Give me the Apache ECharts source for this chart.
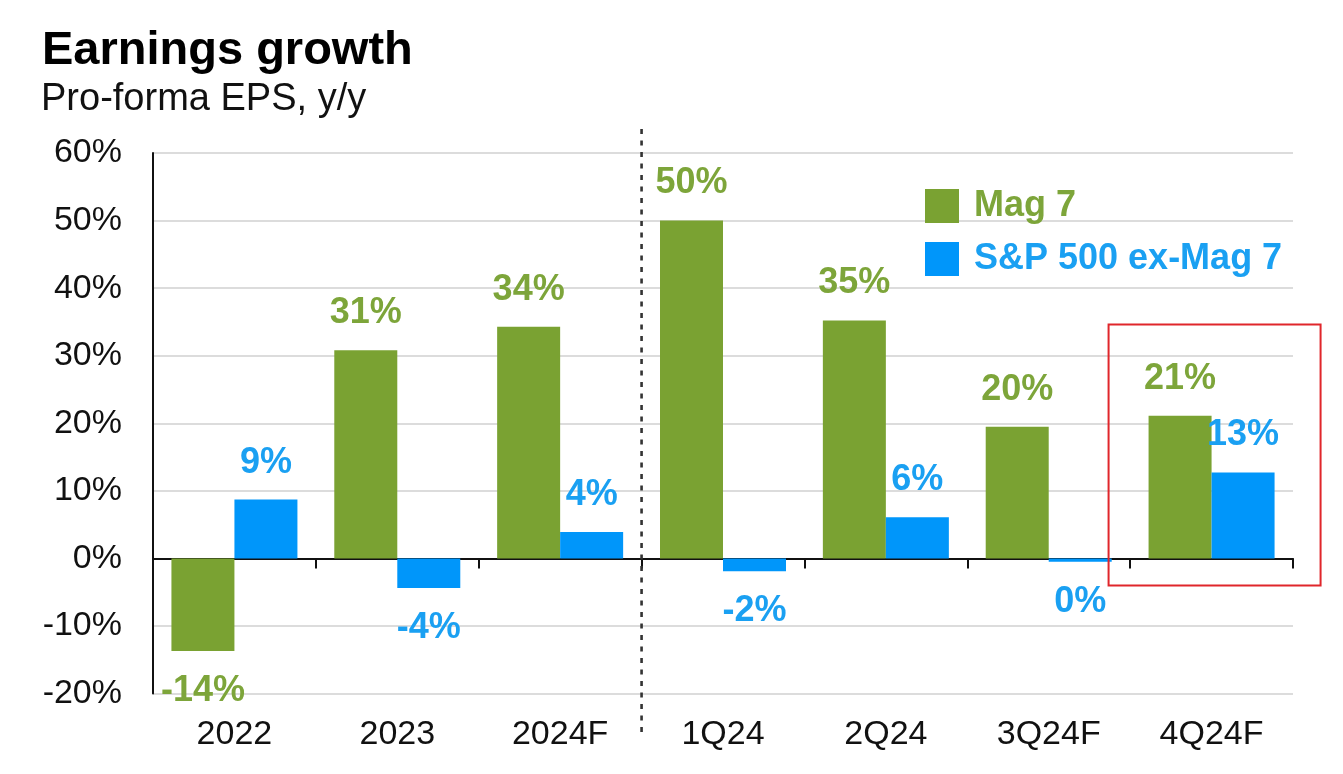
<!DOCTYPE html>
<html>
<head>
<meta charset="utf-8">
<script src="https://cdn.jsdelivr.net/npm/echarts@6/dist/echarts.min.js"></script>
<style>
html,body{margin:0;padding:0;background:#fff;}
#chart{width:1343px;height:774px;}
</style>
</head>
<body>
<div id="chart"></div>
<script>
// ---- data ----
const categories = ['2022', '2023', '2024F', '1Q24', '2Q24', '3Q24F', '4Q24F'];
const mag7 = [-13.7, 30.8, 34.3, 50.0, 35.2, 19.5, 21.1];
const sp500exMag7 = [8.7, -4.4, 3.9, -1.9, 6.1, -0.5, 12.7];
const seriesNames = ['Mag 7', 'S&P 500 ex-Mag 7'];
const yTicks = { min: -20, max: 60, interval: 10 };
const titleText = 'Earnings growth';
const subtitleText = 'Pro-forma EPS, y/y';

// ---- styles ----
const FONT = '"Liberation Sans", Arial, Helvetica, sans-serif';
const GREEN = '#7AA232', GREEN_LABEL = '#7DA53A';
const BLUE = '#0096FA', BLUE_LABEL = '#1AA0F2';

function toData(arr) {
  return arr.map(v => ({
    value: v,
    label: { position: v < 0 ? 'bottom' : 'top', distance: v < 0 ? 22 : 19 }
  }));
}
function labelFmt(p) {
  let r = Math.round(p.value);
  if (r === 0) r = 0;
  return r + '%';
}

const chart = echarts.init(document.getElementById('chart'), null, { renderer: 'canvas' });

const option = {
  animation: false,
  backgroundColor: '#ffffff',
  textStyle: { fontFamily: FONT },
  grid: { left: 153, right: 50, top: 153, bottom: 80.5, containLabel: false },
  legend: {
    orient: 'vertical',
    left: 920, top: 183,
    icon: 'rect',
    itemWidth: 34, itemHeight: 34, itemGap: 17,
    selectedMode: false,
    data: [
      { name: seriesNames[0], textStyle: { color: GREEN_LABEL } },
      { name: seriesNames[1], textStyle: { color: BLUE_LABEL } }
    ],
    textStyle: { fontSize: 36, fontWeight: 'bold', fontFamily: FONT, padding: [0, 0, 0, 10] }
  },
  xAxis: [
    {
      type: 'category',
      data: categories,
      axisLine: { onZero: true, lineStyle: { color: '#111', width: 2 } },
      axisTick: { show: true, interval: 0, length: 10, lineStyle: { color: '#111', width: 2 } },
      axisLabel: { show: false },
      splitLine: { show: false }
    },
    {
      type: 'category',
      data: categories,
      position: 'bottom',
      axisLine: { show: false, onZero: false },
      axisTick: { show: false },
      axisLabel: { show: true, interval: 0, fontSize: 34, color: '#111', margin: 24, fontFamily: FONT },
      splitLine: { show: false }
    }
  ],
  yAxis: {
    type: 'value',
    min: yTicks.min, max: yTicks.max, interval: yTicks.interval,
    axisLine: { show: true, lineStyle: { color: '#111', width: 2 } },
    axisTick: { show: false },
    axisLabel: { formatter: '{value}%', fontSize: 34, color: '#111', margin: 31, fontFamily: FONT },
    splitLine: { show: true, lineStyle: { color: '#DCDCDC', width: 1.8 } }
  },
  series: [
    {
      name: seriesNames[0],
      type: 'bar',
      xAxisIndex: 0,
      data: toData(mag7),
      barWidth: 63,
      barGap: '0%',
      itemStyle: { color: GREEN },
      label: { show: true, formatter: labelFmt, fontSize: 36, fontWeight: 'bold', color: GREEN_LABEL, fontFamily: FONT }
    },
    {
      name: seriesNames[1],
      type: 'bar',
      xAxisIndex: 0,
      data: toData(sp500exMag7),
      barWidth: 63,
      barGap: '0%',
      itemStyle: { color: BLUE },
      label: { show: true, formatter: labelFmt, fontSize: 36, fontWeight: 'bold', color: BLUE_LABEL, fontFamily: FONT }
    }
  ]
};
chart.setOption(option);

// annotations computed from the axis scale
const c2 = chart.convertToPixel({ xAxisIndex: 0 }, 2);
const c3 = chart.convertToPixel({ xAxisIndex: 0 }, 3);
const c6 = chart.convertToPixel({ xAxisIndex: 0 }, 6);
const sepX = (c2 + c3) / 2;
const zeroY = chart.convertToPixel({ yAxisIndex: 0 }, 0);

chart.setOption({
  graphic: [
    { type: 'text', x: 42, y: 51, style: { text: titleText, font: 'bold 47px ' + FONT, fill: '#000', verticalAlign: 'middle' }, z: 10 },
    { type: 'text', x: 41, y: 100, style: { text: subtitleText, font: '38px ' + FONT, fill: '#111', verticalAlign: 'middle' }, z: 10 },
    { type: 'line', shape: { x1: sepX, y1: 129, x2: sepX, y2: 735 },
      style: { stroke: '#333', lineWidth: 2.6, lineDash: [5, 6.5] }, z: 10 },
    { type: 'rect', shape: { x: c6 - 103, y: zeroY - 234, width: 212, height: 261 },
      style: { fill: 'none', stroke: '#E0262B', lineWidth: 2 }, z: 10 }
  ]
});
</script>
</body>
</html>
